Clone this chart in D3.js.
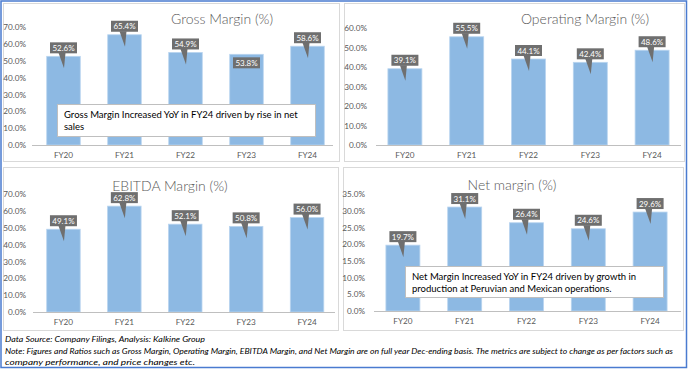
<!DOCTYPE html>
<html>
<head>
<meta charset="utf-8">
<script src="https://cdn.jsdelivr.net/npm/d3@7"></script>
<style>
  html, body { margin: 0; padding: 0; background: #ffffff; }
  svg { display: block; }
</style>
</head>
<body>
<svg id="chart" width="688" height="369"></svg>
<script>
// ---- Data ----
const categories = ["FY20", "FY21", "FY22", "FY23", "FY24"];
const grossMargin = [52.6, 65.4, 54.9, 53.8, 58.6];
const operatingMargin = [39.1, 55.5, 44.1, 42.4, 48.6];
const ebitdaMargin = [49.1, 62.8, 52.1, 50.8, 56.0];
const netMargin = [19.7, 31.1, 26.4, 24.6, 29.6];
const grossTicks = [0, 10, 20, 30, 40, 50, 60, 70];
const operatingTicks = [0, 10, 20, 30, 40, 50, 60];
const ebitdaTicks = [0, 10, 20, 30, 40, 50, 60, 70];
const netTicks = [0, 5, 10, 15, 20, 25, 30, 35];
const titles = ["Gross Margin (%)", "Operating Margin (%)", "EBITDA Margin (%)", "Net margin (%)"];
const grossNote = ["Gross Margin Increased YoY in FY24 driven by rise in net", "sales"];
const netNote = ["Net Margin Increased YoY in FY24 driven by growth in", "production at Peruvian and Mexican operations."];
const footer = [
  "Data Source: Company Filings, Analysis: Kalkine Group",
  "Note: Figures and Ratios such as Gross Margin, Operating Margin, EBITDA Margin, and Net Margin  are on full year Dec-ending basis. The metrics are subject to change as per factors such as",
  "company performance, and price changes etc."
];

// ---- Layout (styles / positions) ----
const FONT = "Lato, 'Open Sans', 'Liberation Sans', sans-serif";
const panels = [
  { values: grossMargin, ticks: grossTicks, title: titles[0], note: grossNote,
    rect: [3, 3, 336, 158], band: [33, 338], axisX: [32, 333], y: [145, 27], labelY: 158,
    titleX: 222, titleY: 24, tickX: 26, below: [3],
    noteRect: [57, 104, 258, 32] },
  { values: operatingMargin, ticks: operatingTicks, title: titles[1], note: null,
    rect: [344, 3, 340, 158], band: [374, 683], axisX: [376, 681], y: [145, 28], labelY: 158,
    titleX: 585, titleY: 24, tickX: 367, below: [] },
  { values: ebitdaMargin, ticks: ebitdaTicks, title: titles[2], note: null,
    rect: [3, 167, 335, 163], band: [33, 337.5], axisX: [33, 335], y: [312, 194], labelY: 325,
    titleX: 170, titleY: 191, tickX: 26, below: [] },
  { values: netMargin, ticks: netTicks, title: titles[3], note: netNote,
    rect: [343, 167, 340, 163], band: [372, 681], axisX: [374, 681], y: [311, 194], labelY: 324,
    titleX: 512, titleY: 190, tickX: 365, below: [],
    noteRect: [405, 266, 258, 31] }
];

const svg = d3.select("#chart");

// outer frame
svg.append("rect").attr("x", 1).attr("y", 1).attr("width", 685.5).attr("height", 366.5)
  .attr("fill", "#ffffff").attr("stroke", "#4a7bd0").attr("stroke-width", 1.5);

panels.forEach(p => {
  const g = svg.append("g");
  g.append("rect").attr("x", p.rect[0] + 0.5).attr("y", p.rect[1] + 0.5)
    .attr("width", p.rect[2]).attr("height", p.rect[3])
    .attr("fill", "#ffffff").attr("stroke", "#d9d9d9").attr("stroke-width", 1);

  const x = d3.scaleBand().domain(categories).range(p.band)
    .paddingInner(0.45).paddingOuter(0.225);
  const y = d3.scaleLinear().domain([0, d3.max(p.ticks)]).range(p.y);

  // y tick labels
  const yAxis = d3.axisLeft(y).tickValues(p.ticks).tickSize(0).tickPadding(0)
    .tickFormat(d => d.toFixed(1) + "%");
  const ya = g.append("g").attr("transform", `translate(${p.tickX},0)`).call(yAxis);
  ya.select(".domain").remove();
  ya.selectAll("text").attr("font-family", FONT).attr("font-size", 8.2)
    .attr("fill", "#595959").attr("dy", "0.32em");

  // title
  g.append("text").attr("x", p.titleX).attr("y", p.titleY).attr("text-anchor", "middle")
    .attr("font-family", FONT).attr("font-size", 14).attr("font-weight", 300)
    .attr("fill", "#595959")
    .text(p.title);

  // bars
  g.selectAll("rect.bar").data(p.values).enter().append("rect").attr("class", "bar")
    .attr("x", (d, i) => x(categories[i]))
    .attr("y", d => y(d))
    .attr("width", x.bandwidth())
    .attr("height", d => y(0) - y(d))
    .attr("fill", "#8db9e3").attr("stroke", "#b9d4ef").attr("stroke-width", 0.8);

  // baseline axis
  const xa = g.append("g").attr("transform", `translate(0,${y(0)})`)
    .call(d3.axisBottom(x).tickSize(0).tickPadding(0));
  xa.select(".domain").remove();
  g.append("line").attr("x1", p.axisX[0]).attr("x2", p.axisX[1])
    .attr("y1", y(0) + 0.5).attr("y2", y(0) + 0.5)
    .attr("stroke", "#bfbfbf").attr("stroke-width", 1);
  xa.selectAll("text").attr("font-family", FONT).attr("font-size", 8.2)
    .attr("fill", "#595959").attr("y", p.labelY - y(0)).attr("dy", 0);

  // callout data labels
  const bw = 27, bh = 11;
  p.values.forEach((v, i) => {
    const cx = x(categories[i]) + x.bandwidth() / 2;
    const top = y(v);
    const below = p.below.includes(i);
    const by = below ? top + 3 : top - 3 - bh;
    const lg = g.append("g");
    if (!below) {
      lg.append("path")
        .attr("d", `M${cx - 5},${by + bh - 0.5} L${cx + 0.5},${by + bh + 15} L${cx + 2},${by + bh - 0.5} Z`)
        .attr("fill", "#6f6f6f");
    }
    lg.append("rect").attr("x", cx - bw / 2).attr("y", by).attr("width", bw).attr("height", bh)
      .attr("fill", "#6f6f6f");
    lg.append("text").attr("x", cx).attr("y", by + 8.5).attr("text-anchor", "middle")
      .attr("font-family", FONT).attr("font-size", 8).attr("fill", "#ffffff")
      .text(v.toFixed(1) + "%");
  });

  // annotation box
  if (p.note) {
    const r = p.noteRect;
    g.append("rect").attr("x", r[0] + 0.5).attr("y", r[1] + 0.5).attr("width", r[2]).attr("height", r[3])
      .attr("fill", "#ffffff").attr("stroke", "#bfbfbf").attr("stroke-width", 1);
    p.note.forEach((line, k) => {
      g.append("text").attr("x", r[0] + 7).attr("y", r[1] + 13.5 + k * 12.5)
        .attr("font-family", FONT).attr("font-size", 9.5).attr("fill", "#000000")
        .text(line);
    });
  }
});

// footer
const footLens = [200, 668, 190];
footer.forEach((line, k) => {
  svg.append("text").attr("x", 5).attr("y", 342 + k * 11.5)
    .attr("font-family", FONT).attr("font-size", 7.5).attr("font-style", "italic")
    .attr("fill", "#000000")
    .attr("textLength", footLens[k]).attr("lengthAdjust", "spacingAndGlyphs")
    .text(line);
});
</script>
</body>
</html>
